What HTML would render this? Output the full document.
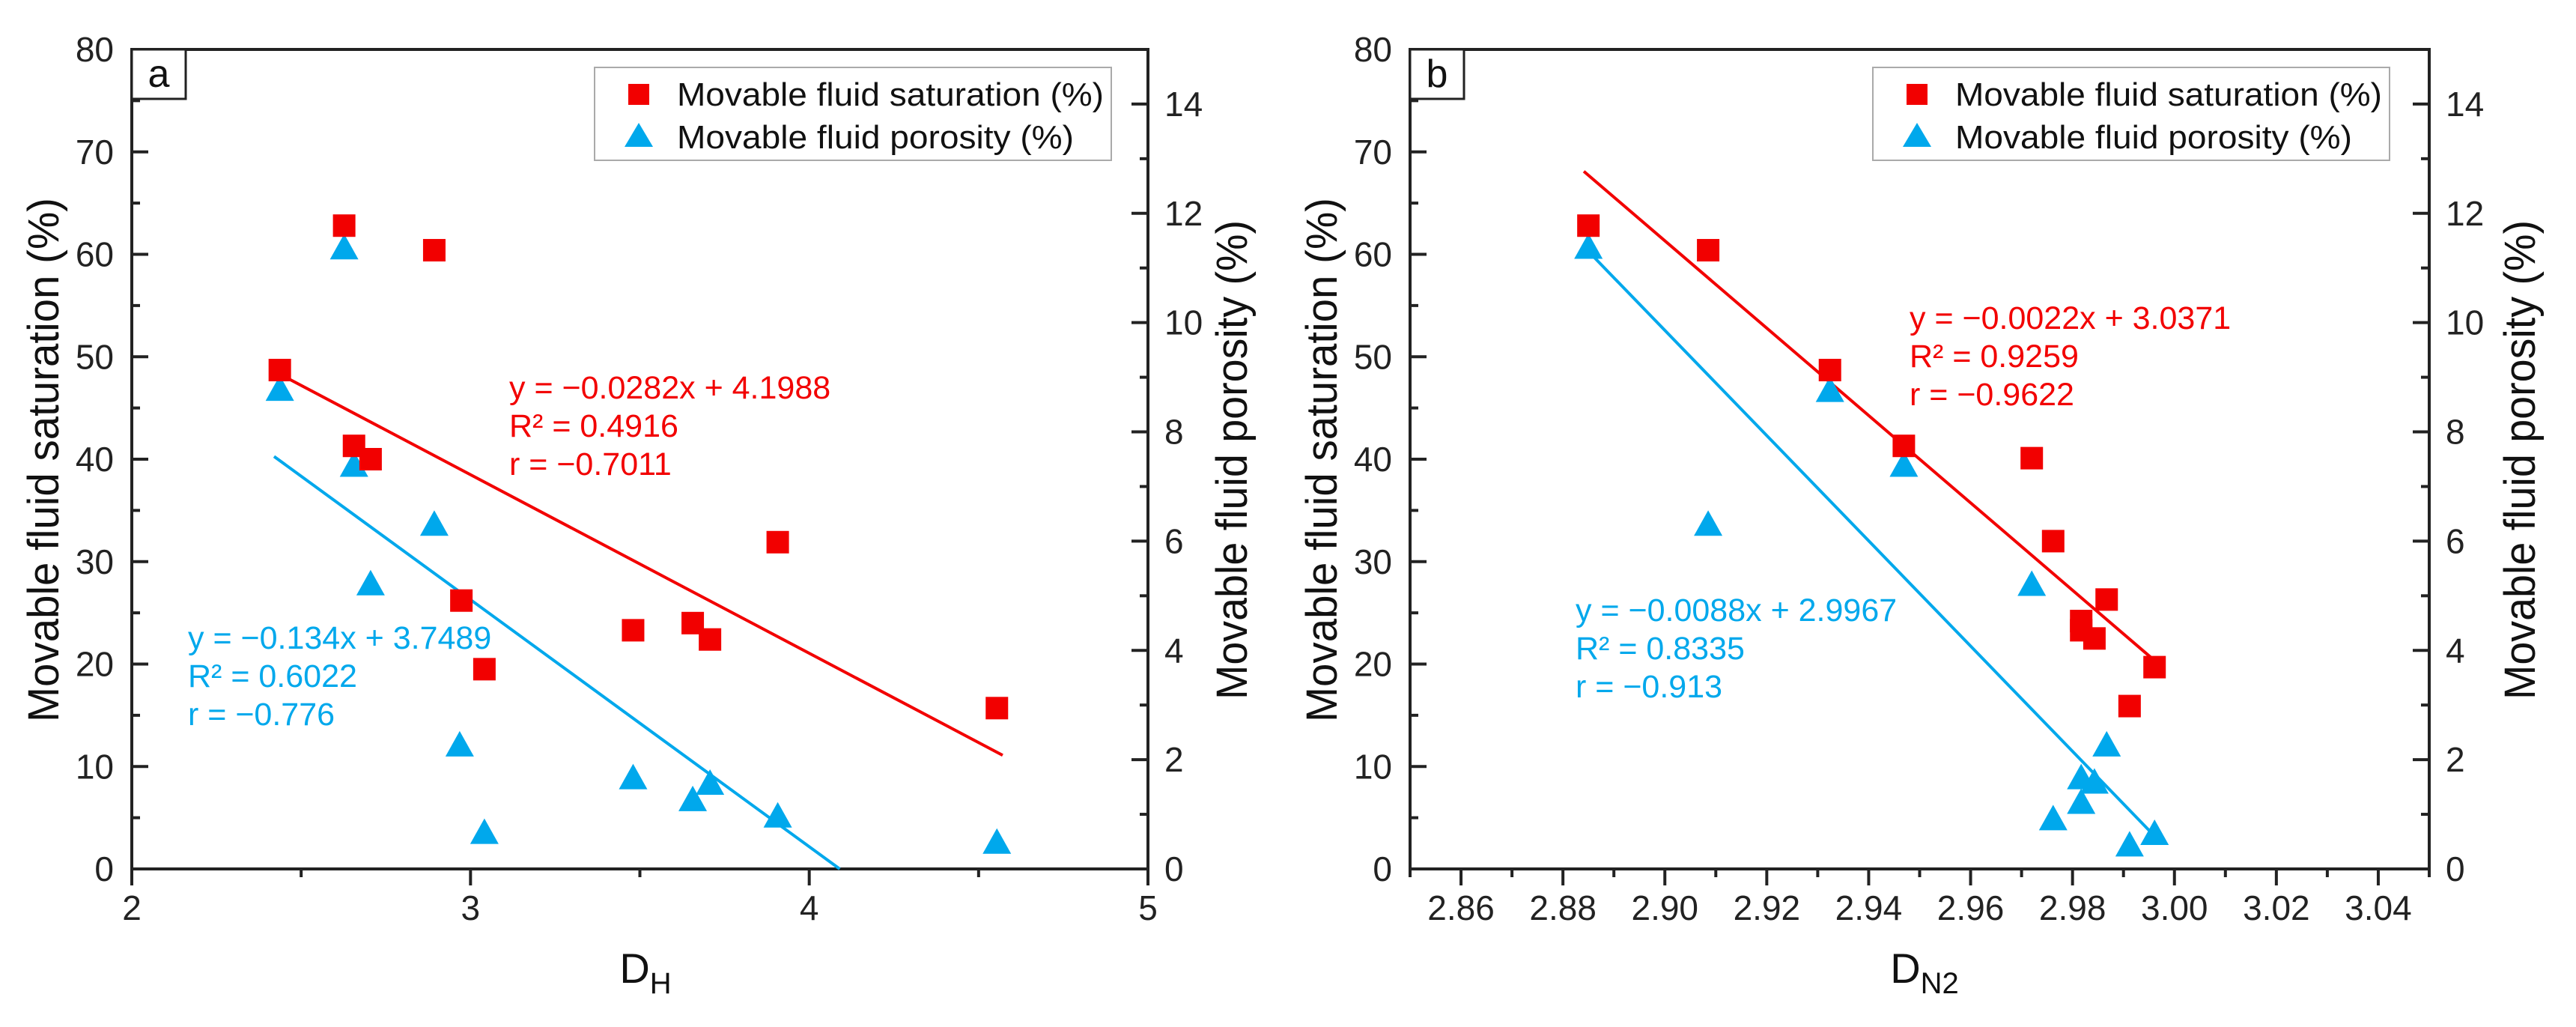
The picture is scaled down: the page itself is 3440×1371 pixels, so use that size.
<!DOCTYPE html>
<html><head><meta charset="utf-8"><style>
html,body{margin:0;padding:0;background:#fff}
svg{display:block;font-family:"Liberation Sans",Arial,sans-serif}
</style></head><body>
<svg id="chart" width="3440" height="1371" viewBox="0 0 3440 1371" xmlns="http://www.w3.org/2000/svg"></svg>
<script>
// ---- Panel a data ----
const aDH = [2.627,2.893,2.437,2.656,2.705,3.907,2.973,3.041,3.480,3.656,3.707,4.554];
const aSat = [62.8,60.4,48.7,41.3,40.0,31.9,26.2,19.5,23.3,24.0,22.4,15.7];
const aPorDH = [2.627,2.437,2.656,2.893,2.705,2.968,3.041,3.480,3.656,3.707,3.907,4.554];
const aPor = [11.35,8.76,7.37,6.29,5.20,2.25,0.65,1.65,1.25,1.55,0.95,0.47];
const aFitSatX = [2.437,4.571];
const aFitSatY = [48.3,11.1];
const aFitPorX = [2.42,4.09];
const aFitPorY = [7.55,0];
const aXTicks = ["2","3","4","5"];
// ---- Panel b data ----
const bDN = [2.885,2.9085,2.9324,2.9469,2.972,2.9762,2.9867,2.9817,2.9817,2.9843,2.9961,2.9912];
const bSat = [62.8,60.4,48.7,41.3,40.1,32.0,26.3,24.2,23.3,22.5,19.7,15.9];
const bPorDN = [2.885,2.9324,2.9469,2.9085,2.972,2.9867,2.9817,2.9843,2.9817,2.9762,2.9912,2.9961];
const bPor = [11.36,8.74,7.37,6.29,5.19,2.25,1.65,1.57,1.2,0.9,0.42,0.63];
const bFitSatX = [2.8841,2.9955];
const bFitSatY = [68.1,20.6];
const bFitPorX = [2.8841,2.9955];
const bFitPorY = [11.39,0.66];
const bXTicks = ["2.86","2.88","2.90","2.92","2.94","2.96","2.98","3.00","3.02","3.04"];
const leftTicks = ["0","10","20","30","40","50","60","70","80"];
const rightTicks = ["0","2","4","6","8","10","12","14"];

const NS="http://www.w3.org/2000/svg";
const svg=document.getElementById('chart');
const RED="#f20000", BLUE="#00a8ec";
function mk(tag,attrs,parent){const e=document.createElementNS(NS,tag);for(const k in attrs)e.setAttribute(k,attrs[k]);(parent||svg).appendChild(e);return e;}

function panel(cfg){
  const g=mk('g',{});
  
  
  const L=cfg.x0,R=cfg.x1,T=66,B=1160;
  const sx=v=>L+(v-cfg.xmin)/(cfg.xmax-cfg.xmin)*(R-L);
  const sy=v=>B-v/80*(B-T);
  const sy2=v=>B-v/15*(B-T);
  // frame
  const fr=mk('rect',{x:L,y:T,width:R-L,height:B-T,fill:'none',stroke:'#222','stroke-width':4},g);
  
  
  // left ticks
  for(let v=0;v<=80;v+=5){const maj=v%10===0;const y=sy(v);
    const t=mk('line',{x1:L,x2:L+(maj?22:11),y1:y,y2:y,stroke:'#222','stroke-width':4},g);
    }
  leftTicks.forEach(s=>{const v=+s;const t=mk('text',{x:L-24,y:sy(v)+16,'font-size':46,'text-anchor':'end',fill:'#222'},g);t.textContent=s;
    });
  // right ticks
  for(let v=0;v<=15;v+=1){const maj=v%2===0;const y=sy2(v);
    const t=mk('line',{x1:R,x2:R-(maj?22:11),y1:y,y2:y,stroke:'#222','stroke-width':4},g);
    }
  rightTicks.forEach(s=>{const v=+s;const t=mk('text',{x:R+22,y:sy2(v)+16,'font-size':46,fill:'#222'},g);t.textContent=s;
    });
  // x ticks
  for(let i=0;i<=cfg.nMinor;i++){const v=cfg.xmin+i*cfg.minorStep;const maj=cfg.isMajor(i);const x=sx(v);
    const t=mk('line',{x1:x,x2:x,y1:B,y2:B+(maj?22:11),stroke:'#222','stroke-width':4},g);
    }
  cfg.xTicks.forEach(s=>{const t=mk('text',{x:sx(+s),y:1228,'font-size':46,'text-anchor':'middle',fill:'#222'},g);t.textContent=s;
    });
  // fit lines
  const f1=mk('line',{x1:sx(cfg.fsx[0]),y1:sy(cfg.fsy[0]),x2:sx(cfg.fsx[1]),y2:sy(cfg.fsy[1]),stroke:RED,'stroke-width':4},g);
  
  const f2=mk('line',{x1:sx(cfg.fpx[0]),y1:sy2(cfg.fpy[0]),x2:sx(cfg.fpx[1]),y2:sy2(cfg.fpy[1]),stroke:BLUE,'stroke-width':4},g);
  
  // markers
  cfg.px.forEach((v,i)=>{const x=sx(v),y=sy2(cfg.py[i]);
    const p=mk('polygon',{points:`${x-19},${y+14} ${x+19},${y+14} ${x},${y-20}`,fill:BLUE},g);
    });
  cfg.sxv.forEach((v,i)=>{const x=sx(v),y=sy(cfg.syv[i]);
    const r=mk('rect',{x:x-15,y:y-15,width:30,height:30,fill:RED},g);
    });
  // panel label
  const lb=mk('rect',{x:L,y:T,width:72,height:66,fill:'#fff',stroke:'#222','stroke-width':3},g);
  
  const lt=mk('text',{x:L+36,y:T+50,'font-size':52,'text-anchor':'middle',fill:'#111'},g);lt.textContent=cfg.letter;
  
  // legend
  const lg=mk('g',{},g);
  const lx=cfg.legX;
  mk('rect',{x:lx,y:90,width:690,height:124,fill:'#fff',stroke:'#aaa','stroke-width':2},lg);
  const m1=mk('rect',{x:lx+45,y:112,width:28,height:28,fill:RED},lg);
  
  const t1=mk('text',{x:lx+110,y:141,'font-size':44,fill:'#111',textLength:570,lengthAdjust:'spacingAndGlyphs'},lg);t1.textContent='Movable fluid saturation (%)';
  
  const m2=mk('polygon',{points:`${lx+40},${196} ${lx+78},${196} ${lx+59},${164}`,fill:BLUE},lg);
  
  const t2=mk('text',{x:lx+110,y:198,'font-size':44,fill:'#111',textLength:530,lengthAdjust:'spacingAndGlyphs'},lg);t2.textContent='Movable fluid porosity (%)';
  
  // equations
  const eq=(lines,x,y0,col,nm)=>lines.forEach((s,i)=>{const t=mk('text',{x:x,y:y0+i*51,'font-size':43,fill:col},g);t.textContent=s;
    });
  eq(cfg.eqR,cfg.eqRx,cfg.eqRy,RED,'saturation-fit-equation');
  eq(cfg.eqB,cfg.eqBx,cfg.eqBy,BLUE,'porosity-fit-equation');
  // axis titles
  const yt=mk('text',{x:0,y:0,'font-size':58,'text-anchor':'middle',fill:'#111',transform:`translate(${cfg.ytX},614) rotate(-90)`,textLength:700,lengthAdjust:'spacingAndGlyphs'},g);
  yt.textContent='Movable fluid saturation (%)';
  
  const yt2=mk('text',{x:0,y:0,'font-size':58,'text-anchor':'middle',fill:'#111',transform:`translate(${cfg.yt2X},614) rotate(-90)`,textLength:640,lengthAdjust:'spacingAndGlyphs'},g);
  yt2.textContent='Movable fluid porosity (%)';
  
  const xt=mk('text',{x:cfg.xtX,y:1312,'font-size':56,'text-anchor':'middle',fill:'#111'},g);
  xt.innerHTML='D<tspan font-size="40" dy="14">'+cfg.sub+'</tspan>';
  
}
panel({name:'panel-a',letter:'a',x0:176,x1:1533,xmin:2,xmax:5,nMinor:6,minorStep:0.5,isMajor:i=>i%2===0,xTicks:aXTicks,
  sxv:aDH,syv:aSat,px:aPorDH,py:aPor,fsx:aFitSatX,fsy:aFitSatY,fpx:aFitPorX,fpy:aFitPorY,legX:794,
  eqR:['y = \u22120.0282x + 4.1988','R\u00b2 = 0.4916','r = \u22120.7011'],eqRx:680,eqRy:532,
  eqB:['y = \u22120.134x + 3.7489','R\u00b2 = 0.6022','r = \u22120.776'],eqBx:251,eqBy:866,
  ytX:78,yt2X:1665,xtX:862,sub:'H'});
panel({name:'panel-b',letter:'b',x0:1883,x1:3244,xmin:2.85,xmax:3.05,nMinor:20,minorStep:0.01,isMajor:i=>i%2===1,xTicks:bXTicks,
  sxv:bDN,syv:bSat,px:bPorDN,py:bPor,fsx:bFitSatX,fsy:bFitSatY,fpx:bFitPorX,fpy:bFitPorY,legX:2501,
  eqR:['y = \u22120.0022x + 3.0371','R\u00b2 = 0.9259','r = \u22120.9622'],eqRx:2550,eqRy:439,
  eqB:['y = \u22120.0088x + 2.9967','R\u00b2 = 0.8335','r = \u22120.913'],eqBx:2104,eqBy:829,
  ytX:1785,yt2X:3385,xtX:2570,sub:'N2'});
</script>
</body></html>
